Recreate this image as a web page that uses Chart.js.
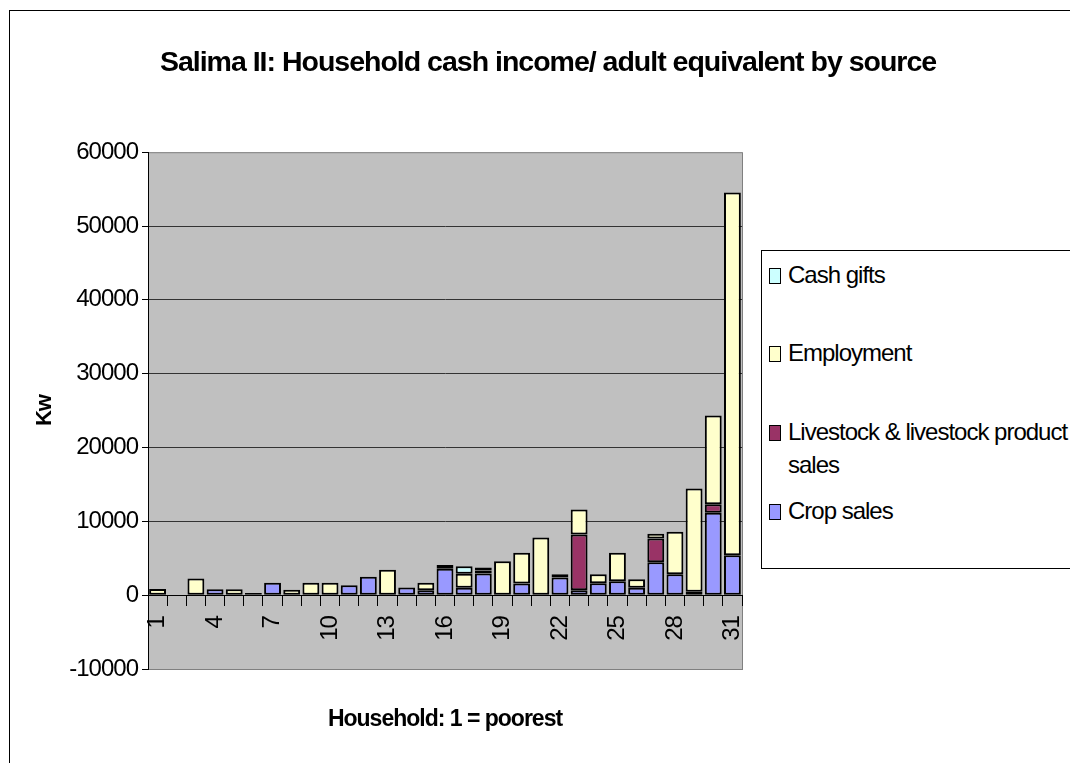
<!DOCTYPE html>
<html>
<head>
<meta charset="utf-8">
<title>Salima II: Household cash income/ adult equivalent by source</title>
<script src="https://cdn.jsdelivr.net/npm/chart.js@4/dist/chart.umd.min.js"></script>
<style>
  html, body { margin: 0; padding: 0; background: #fff; overflow: hidden; }
  #wrap { position: relative; width: 1070px; height: 763px; overflow: hidden; }
  #chart { position: absolute; left: 0; top: 0; }
  #frame { position: absolute; left: 9px; top: 10px; width: 1200px; height: 900px;
           border-left: 1px solid #000; border-top: 1px solid #000; pointer-events: none; }
  #legend { position: absolute; left: 761px; top: 250px; width: 340px; height: 317px;
            border: 1px solid #000; background: #fff; color: #000;
            font-family: "Liberation Sans", Arial, sans-serif; font-size: 24px; letter-spacing: -1px; }
  .item { position: absolute; left: 0; width: 340px; }
  .sw { position: absolute; left: 7px; width: 10px; height: 14px; border: 1px solid #000; }
  .tx { position: absolute; left: 26px; top: 0; width: 285px; line-height: 33px; }
</style>
</head>
<body>
<div id="wrap">
  <canvas id="chart" width="1070" height="763"></canvas>
  <div id="frame"></div>
  <div id="legend"></div>
</div>
<script>
// Households ranked from poorest (1) to richest (31)
const households = ['1','2','3','4','5','6','7','8','9','10','11','12','13','14','15','16',
                    '17','18','19','20','21','22','23','24','25','26','27','28','29','30','31'];
const labelEvery = 3;

// Cash income per adult equivalent (Kw), by source; null = nothing from that source
const cropSales = [null, null, null, 800, null, 300, 1670, null, null, null, 1350, 2480, null, 1040, 680, 3570,
                   990, 2940, null, 1590, null, 2400, 680, 1630, 1900, 990, 4470, 2850, 450, 11150, 5420];
const livestockSales = [null, null, null, null, null, null, null, null, null, null, null, null, null, null, null, 250,
                        null, 400, null, null, null, 450, 7540, null, null, null, 3210, null, null, 1180, null];
const employment = [850, null, 2250, null, 800, null, null, 720, 1670, 1670, null, null, 3430, null, 1000, 250,
                    1900, 400, 4600, 4140, 7800, null, 3390, 1220, 3830, 1180, 630, 5730, 14000, 12020, 49120];
const cashGifts = [null, null, null, null, null, null, null, null, null, null, null, null, null, null, null, null,
                   1040, null, null, null, null, null, null, null, null, null, null, null, null, null, null];

const yTicks = { min: -10000, max: 60000, step: 10000 };

const FONT = '"Liberation Sans", Arial, sans-serif';

// Narrow text spacing for everything drawn on the canvas
const tightText = {
  id: 'tightText',
  beforeUpdate(c) { c.ctx.letterSpacing = '-1px'; },
  beforeLayout(c) { c.ctx.letterSpacing = '-1px'; },
  beforeDraw(c) { c.ctx.letterSpacing = '-1px'; }
};

// Grey plot area with a thin grey frame
const plotArea = {
  id: 'plotArea',
  beforeDraw(c) {
    const { ctx, chartArea: { left, top, width, height } } = c;
    ctx.save();
    ctx.fillStyle = '#C0C0C0';
    ctx.fillRect(left, top, width, height);
    ctx.strokeStyle = '#808080';
    ctx.lineWidth = 1;
    ctx.strokeRect(left + 0.5, top + 0.5, width, height);
    ctx.restore();
  }
};

const bar = (label, data, color) => ({
  label, data, backgroundColor: color, borderColor: '#000', borderWidth: 2,
  borderSkipped: false, barPercentage: 0.88, categoryPercentage: 1.0, yAxisID: 'y'
});

const datasets = [
  bar('Crop sales', cropSales, '#9999FF'),
  bar('Livestock & livestock product sales', livestockSales, '#993366'),
  bar('Employment', employment, '#FFFFCC'),
  bar('Cash gifts', cashGifts, '#CCFFFF')
];

const chart = new Chart(document.getElementById('chart'), {
  type: 'bar',
  data: { labels: households, datasets },
  plugins: [tightText, plotArea],
  options: {
    responsive: false,
    animation: false,
    devicePixelRatio: 1,
    layout: { padding: { left: 26, right: 0, top: 0, bottom: 94 } },
    plugins: {
      legend: { display: false },
      tooltip: { enabled: false },
      title: {
        display: true,
        text: 'Salima II: Household cash income/ adult equivalent by source',
        color: '#000',
        font: { family: FONT, size: 28.5, weight: 'bold' },
        padding: { top: 46, bottom: 72 }
      }
    },
    scales: {
      x: {
        stacked: true,
        position: { y: 0 },
        offset: true,
        grid: { offset: true, drawOnChartArea: false, drawTicks: true, tickLength: 10, color: '#000' },
        border: { display: true, color: '#000', width: 1 },
        ticks: {
          autoSkip: false, minRotation: 90, maxRotation: 90, padding: 11,
          color: '#000', font: { family: FONT, size: 24 },
          callback(v, i) { return i % labelEvery === 0 ? this.getLabelForValue(v) : ''; }
        },
        title: {
          display: true, text: 'Household: 1 = poorest', color: '#000',
          font: { family: FONT, size: 23, weight: 'bold' },
          padding: { top: 54, bottom: 0 }
        }
      },
      y: {
        stacked: true,
        min: yTicks.min, max: yTicks.max,
        afterFit(s) { s.width = 122; },
        ticks: {
          stepSize: yTicks.step, padding: 4, color: '#000',
          font: { family: FONT, size: 24 },
          callback: v => String(v)
        },
        grid: {
          color: c => (c.tick && (c.tick.value === yTicks.max || c.tick.value === yTicks.min)) ? 'rgba(0,0,0,0)' : '#333',
          tickColor: '#000', tickLength: 6, lineWidth: 1
        },
        border: { display: true, color: '#000', width: 1 },
        title: {
          display: true, text: 'Kw', color: '#000',
          font: { family: FONT, size: 22, weight: 'bold' },
          padding: { top: 6, bottom: 0 }
        }
      },
      spacer: {
        type: 'linear', axis: 'y', position: 'right', display: true,
        afterFit(s) { s.width = 328; },
        ticks: { display: false },
        grid: { display: false, drawTicks: false },
        border: { display: false }
      }
    }
  }
});

// Legend box beside the plot, top entry = top of each stack
const legendTops = [7, 85, 164, 243];
const legend = document.getElementById('legend');
chart.data.datasets.slice().reverse().forEach((ds, i) => {
  const item = document.createElement('div');
  item.className = 'item';
  item.style.top = legendTops[i] + 'px';
  const sw = document.createElement('div');
  sw.className = 'sw';
  sw.style.top = '10px';
  sw.style.background = ds.backgroundColor;
  const tx = document.createElement('div');
  tx.className = 'tx';
  tx.textContent = ds.label;
  item.appendChild(sw);
  item.appendChild(tx);
  legend.appendChild(item);
});
</script>
</body>
</html>
